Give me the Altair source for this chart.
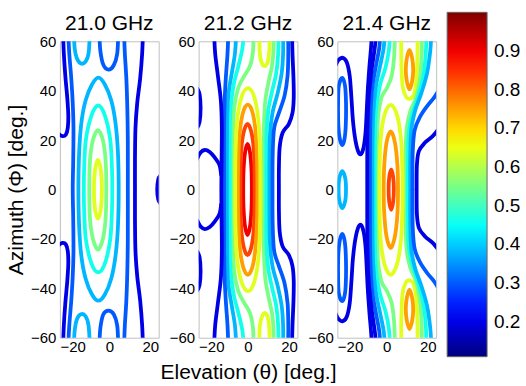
import altair as alt
import pandas as pd

PANELS = ["21.0 GHz", "21.2 GHz", "21.4 GHz"]
X_TICKS = [-20, 0, 20]
Y_TICKS = [-60, -40, -20, 0, 20, 40, 60]
CBAR_TICKS = [0.2, 0.3, 0.4, 0.5, 0.6, 0.7, 0.8, 0.9]
JET_DOMAIN = [0.11, 0.22125, 0.44375, 0.66625, 0.88875, 1.0]
JET_COLORS = ["#00007f", "#0000ff", "#00ffff", "#ffff00", "#ff0000", "#7f0000"]

# ---------------- 21.0 GHz contours (elevation, azimuth) ----------------
P1_C064 = [(-4.6, 12), (-3.6, 9), (-3.1, 4), (-3.0, 0), (-3.1, -4), (-3.6, -9), (-4.6, -11.8),
           (-5.6, -9), (-6.1, -4), (-6.2, 0), (-6.1, 4), (-5.6, 9)]
P1_C055 = [(-4.6, 24), (-2.6, 20), (-1.5, 12), (-1.2, 0), (-1.5, -12), (-2.6, -20), (-4.6, -24.3),
           (-6.6, -20), (-7.8, -12), (-8.1, 0), (-7.8, 12), (-6.6, 20)]
P1_C046 = [(-4.5, 34), (-1.8, 30), (0.4, 20), (1.1, 8), (1.2, 0), (1.1, -8), (0.4, -20), (-1.8, -30),
           (-4.5, -33.5), (-7.2, -30), (-9.5, -20), (-10.2, -8), (-10.3, 0), (-10.2, 8), (-9.5, 20), (-7.2, 30)]
P1_C038 = [(-4.4, 45.3), (-1.8, 42.5), (0.8, 36), (2.5, 27), (3.5, 15), (3.8, 0), (3.5, -15), (2.5, -27),
           (0.8, -36), (-1.8, -42.5), (-4.4, -45), (-7, -42.5), (-9.6, -36), (-11.3, -27), (-12.2, -15),
           (-12.5, 0), (-12.2, 15), (-11.3, 27), (-9.6, 36), (-7, 42.5)]
P1_L030 = [(-16.6, 63), (-16.2, 55), (-15.4, 45), (-14.8, 35), (-14.5, 25), (-14.6, 12), (-14.8, 0),
           (-14.6, -12), (-14.5, -25), (-14.8, -35), (-15.4, -45), (-16.2, -55), (-16.6, -63)]
P1_H020_TOP = [(-18.7, 63), (-18.4, 55), (-17.8, 46), (-17.0, 37), (-16.6, 30), (-16.8, 25), (-17.6, 22.2),
               (-19, 21.6), (-20.6, 22.6)]
P1_H020_BOT = [(-18.7, -63), (-18.4, -55), (-17.8, -46), (-17.0, -37), (-16.6, -30), (-16.8, -25),
               (-17.6, -22.2), (-19, -21.6), (-20.6, -22.6)]
P1_T038_TOP = [(-14.3, 63), (-14.0, 57), (-13.1, 53), (-11.5, 51), (-9.6, 51.8), (-8.4, 55), (-7.9, 63)]
P1_T038_BOT = [(-14.3, -63), (-14.0, -57), (-13.1, -52.5), (-11.5, -50.5), (-9.6, -51.3), (-8.4, -55), (-7.9, -63)]
P1_U030_TOP = [(-4.0, 63), (-3.6, 56), (-2.4, 50.5), (-0.3, 48.5), (1.8, 50.3), (3.2, 55), (3.6, 63)]
P1_U030_BOT = [(-4.0, -63), (-3.6, -56), (-2.4, -50.5), (-0.3, -49), (1.8, -50.5), (3.2, -55), (3.6, -63)]
P1_R030 = [(6.0, 63), (6.3, 55), (6.9, 45), (7.3, 33), (7.5, 20), (7.5, 0), (7.5, -20), (7.3, -33),
           (6.9, -45), (6.3, -55), (6.0, -63)]
P1_R020 = [(13.6, 63), (13.3, 55), (12.5, 45), (11.3, 35), (10.6, 25), (10.4, 12), (10.4, 0), (10.4, -12),
           (10.6, -25), (11.3, -35), (12.5, -45), (13.3, -55), (13.6, -63)]
P1_E020 = [(20.6, 5.5), (19.8, 4), (19.4, 0), (19.8, -4), (20.6, -5.5)]

# ---------------- 21.2 GHz contours ----------------
P2_C090 = [(-0.2, 18.5), (0.8, 15), (1.4, 8), (1.55, 0), (1.4, -8), (0.8, -15), (-0.2, -18.5),
           (-1.2, -15), (-1.8, -8), (-1.95, 0), (-1.8, 8), (-1.2, 15)]
P2_C083 = [(-0.2, 26.6), (1.4, 23), (2.4, 15), (2.7, 0), (2.4, -15), (1.4, -23), (-0.2, -26.6),
           (-1.8, -23), (-2.8, -15), (-3.1, 0), (-2.8, 15), (-1.8, 23)]
P2_C075 = [(-0.1, 34.4), (2, 30.5), (3.3, 20), (3.8, 0), (3.3, -20), (2, -30.5), (-0.1, -34.5),
           (-2.2, -30.5), (-3.6, -20), (-4.1, 0), (-3.6, 20), (-2.2, 30.5)]
P2_C064 = [(0, 41), (2.5, 37.5), (4.2, 28), (4.9, 14), (5.0, 0), (4.9, -14), (4.2, -28), (2.5, -37.5),
           (0, -41.2), (-2.6, -37.5), (-4.4, -28), (-5.1, -14), (-5.2, 0), (-5.1, 14), (-4.4, 28), (-2.6, 37.5)]
P2_U064_TOP = [(4.6, 63), (4.7, 56), (5.3, 52), (6.6, 50), (7.9, 51.5), (8.6, 56), (8.8, 63)]
P2_U064_BOT = [(4.6, -63), (4.7, -56), (5.3, -52.5), (6.6, -50), (7.9, -51.5), (8.6, -56), (8.8, -63)]
P2_L055 = [(2.2, 63), (2.0, 56), (0.8, 50), (-1.5, 46), (-4, 41), (-5.6, 33), (-6.2, 20), (-6.3, 0),
           (-6.2, -20), (-5.6, -33), (-4, -41), (-1.5, -46), (0.8, -50), (2.0, -56), (2.2, -63)]
P2_R055 = [(10.4, 63), (10.3, 56), (9.7, 50), (8.4, 44), (7, 36), (6.4, 25), (6.2, 12), (6.2, 0),
           (6.2, -12), (6.4, -25), (7, -36), (8.4, -44), (9.7, -50), (10.3, -56), (10.4, -63)]
P2_L046 = [(-1.8, 63), (-2.3, 57), (-3.9, 50), (-5.9, 42), (-7.1, 32), (-7.4, 20), (-7.4, 0),
           (-7.4, -20), (-7.1, -32), (-5.9, -42), (-3.9, -50), (-2.3, -57), (-1.8, -63)]
P2_R046 = [(12.3, 63), (12.2, 55), (11.4, 47), (9.8, 40), (8.2, 32), (7.5, 22), (7.4, 0),
           (7.5, -22), (8.2, -32), (9.8, -40), (11.4, -47), (12.2, -55), (12.3, -63)]
P2_L038 = [(-4.8, 63), (-5.3, 55), (-6.6, 47), (-8.0, 38), (-8.5, 26), (-8.6, 0),
           (-8.5, -26), (-8.0, -38), (-6.6, -47), (-5.3, -55), (-4.8, -63)]
P2_R038 = [(14.2, 63), (14.2, 55), (13.6, 47), (12, 39), (9.9, 31), (8.9, 22), (8.7, 10), (8.7, 0),
           (8.7, -10), (8.9, -22), (9.9, -31), (12, -39), (13.6, -47), (14.2, -55), (14.2, -63)]
P2_L030 = [(-8.0, 63), (-8.3, 55), (-9.0, 45), (-9.5, 35), (-9.7, 22), (-9.7, 0),
           (-9.7, -22), (-9.5, -35), (-9.0, -45), (-8.3, -55), (-8.0, -63)]
P2_R030 = [(16.2, 63), (16.3, 55), (16, 46), (14.8, 38), (12.5, 31), (10.6, 25), (10.0, 15), (9.9, 0),
           (10.0, -15), (10.6, -25), (12.5, -31), (14.8, -38), (16, -46), (16.3, -55), (16.2, -63)]
P2_L020 = [(-13.7, 63), (-13.3, 55), (-12.2, 46), (-11, 36), (-10.6, 25), (-10.7, 12), (-10.8, 0),
           (-10.7, -12), (-10.6, -25), (-11, -36), (-12.2, -46), (-13.3, -55), (-13.7, -63)]
P2_R020 = [(17.8, 63), (18, 55), (18.4, 45), (18.5, 37), (18, 31), (16.5, 26.5), (14, 23), (12.8, 17),
           (12.5, 8), (12.5, 0), (12.5, -8), (12.8, -17), (14, -23), (16.5, -26.5), (18, -31), (18.5, -37),
           (18.4, -45), (18, -55), (17.8, -63)]
P2_H020_TOP = [(-20.6, 12.5), (-19.2, 15), (-17.5, 16), (-15.5, 15.2), (-13.5, 13), (-11.6, 10), (-10.9, 6)]
P2_H020_BOT = [(-20.6, -12.5), (-19.2, -15), (-17.5, -16), (-15.5, -15.2), (-13.5, -13), (-11.6, -10), (-10.9, -6)]
P2_E020_TOP = [(-20.6, 41), (-19.6, 38.5), (-19.2, 33), (-19.6, 27.5), (-20.6, 25)]
P2_E020_BOT = [(-20.6, -25), (-19.6, -27.5), (-19.2, -33), (-19.6, -38.5), (-20.6, -41)]

# ---------------- 21.4 GHz contours ----------------
P3_C083 = [(1.8, 8), (2.6, 5), (2.85, 0), (2.6, -5), (1.8, -8.2), (1.0, -5), (0.75, 0), (1.0, 5)]
P3_C075 = [(1.6, 23.5), (3.3, 19), (4.3, 10), (4.55, 0), (4.3, -10), (3.3, -19), (1.6, -23.7),
           (-0.1, -19), (-1.0, -10), (-1.25, 0), (-1.0, 10), (-0.1, 19)]
P3_C064 = [(1.6, 34.3), (4.2, 30), (5.8, 20), (6.3, 8), (6.35, 0), (6.3, -8), (5.8, -20), (4.2, -30),
           (1.6, -34.5), (-1.0, -30), (-2.5, -20), (-2.9, -8), (-3.0, 0), (-2.9, 8), (-2.5, 20), (-1.0, 30)]
P3_S075_TOP = [(9.2, 56.5), (10.3, 53), (10.7, 48.5), (10.3, 44), (9.2, 40.5), (8.1, 44), (7.7, 48.5), (8.1, 53)]
P3_S075_BOT = [(9.2, -40.5), (10.3, -44), (10.7, -48.5), (10.3, -53), (9.2, -56.5), (8.1, -53), (7.7, -48.5), (8.1, -44)]
P3_U064_TOP = [(5.9, 63), (5.9, 52), (6.4, 42), (7.8, 37.5), (9.4, 36.8), (11, 38.5), (12, 45), (12.4, 54), (12.5, 63)]
P3_U064_BOT = [(5.9, -63), (5.9, -52), (6.4, -42), (7.8, -37.5), (9.4, -36.8), (11, -38.5), (12, -45), (12.4, -54), (12.5, -63)]
P3_L055 = [(3.3, 63), (3.0, 54), (2.0, 46), (0, 41), (-2.2, 37), (-3.6, 28), (-3.9, 14), (-4.0, 0),
           (-3.9, -14), (-3.6, -28), (-2.2, -37), (0, -41), (2.0, -46), (3.0, -54), (3.3, -63)]
P3_R055 = [(14.2, 63), (14.1, 54), (13.4, 45), (11.8, 37), (9.6, 32), (8.1, 25), (7.6, 14), (7.5, 0),
           (7.6, -14), (8.1, -25), (9.6, -32), (11.8, -37), (13.4, -45), (14.1, -54), (14.2, -63)]
P3_L046 = [(1.3, 63), (0.8, 56), (-0.6, 49), (-2.8, 42), (-4.4, 32), (-4.8, 18), (-4.9, 0),
           (-4.8, -18), (-4.4, -32), (-2.8, -42), (-0.6, -49), (0.8, -56), (1.3, -63)]
P3_R046 = [(16, 63), (15.8, 55), (14.8, 46), (12.8, 38), (10.5, 31), (8.9, 23), (8.6, 12), (8.5, 0),
           (8.6, -12), (8.9, -23), (10.5, -31), (12.8, -38), (14.8, -46), (15.8, -55), (16, -63)]
P3_L038 = [(-0.8, 63), (-1.3, 57), (-2.7, 50), (-4.5, 41), (-5.5, 30), (-5.8, 15), (-5.8, 0),
           (-5.8, -15), (-5.5, -30), (-4.5, -41), (-2.7, -50), (-1.3, -57), (-0.8, -63)]
P3_R038 = [(18, 63), (17.6, 56), (16.3, 47), (14, 39), (11.5, 32), (9.9, 24), (9.5, 12), (9.5, 0),
           (9.5, -12), (9.9, -24), (11.5, -32), (14, -39), (16.3, -47), (17.6, -56), (18, -63)]
P3_L030 = [(-2.6, 63), (-3.1, 57), (-4.4, 50), (-5.9, 41), (-6.6, 30), (-6.8, 15), (-6.8, 0),
           (-6.8, -15), (-6.6, -30), (-5.9, -41), (-4.4, -50), (-3.1, -57), (-2.6, -63)]
P3_R030_TOP = [(20.6, 39.5), (19, 37), (16.5, 34), (13.5, 29.5), (11.3, 24), (10.5, 15), (10.4, 0)]
P3_R030_BOT = [(10.4, 0), (10.5, -15), (11.3, -24), (13.5, -29.5), (16.5, -34), (19, -37), (20.6, -39.5)]
P3_R020 = [(20.6, 24), (18.5, 21.5), (15.5, 19), (13, 15.5), (12.2, 10), (12.1, 0), (12.2, -10),
           (13, -15.5), (15.5, -19), (18.5, -21.5), (20.6, -24)]
P3_L020 = [(-4.3, 63), (-4.9, 57), (-6.2, 48), (-7.3, 37), (-7.8, 25), (-7.9, 12), (-7.9, 0),
           (-7.9, -12), (-7.8, -25), (-7.3, -37), (-6.2, -48), (-4.9, -57), (-4.3, -63)]
P3_V020_TOP = [(-20.6, 50.5), (-19.5, 52.5), (-17.8, 53.3), (-16.2, 51.5), (-15, 46), (-14.3, 37),
               (-13.7, 28), (-12.7, 20), (-11.4, 15), (-10.3, 14.5), (-9.3, 17.5), (-8.6, 23),
               (-8.2, 30), (-7.7, 40), (-7, 50), (-6.4, 57), (-6, 63)]
P3_V020_BOT = [(-20.6, -50.5), (-19.5, -52.5), (-17.8, -53.3), (-16.2, -51.5), (-15, -46), (-14.3, -37),
               (-13.7, -28), (-12.7, -20), (-11.4, -15), (-10.3, -14.5), (-9.3, -17.5), (-8.6, -23),
               (-8.2, -30), (-7.7, -40), (-7, -50), (-6.4, -57), (-6, -63)]
P3_B030_TOP = [(-18, 45.2), (-16.9, 42), (-16.5, 35), (-16.6, 26), (-17.1, 20.5), (-18, 18),
               (-19, 20.5), (-19.6, 26), (-19.7, 35), (-19.4, 42)]
P3_B030_BOT = [(-18, -18), (-17.1, -20.5), (-16.6, -26), (-16.5, -35), (-16.9, -42), (-18, -45.2),
               (-19.4, -42), (-19.7, -35), (-19.6, -26), (-19, -20.5)]
P3_E038 = [(-18, 7.4), (-16.8, 4.5), (-16.5, 0), (-16.8, -4.5), (-18, -7.5), (-19.2, -4.5), (-19.5, 0), (-19.2, 4.5)]

# (panel, level, closed, points)
CONTOURS = [
    (0, 0.64, True, P1_C064), (0, 0.55, True, P1_C055), (0, 0.46, True, P1_C046), (0, 0.38, True, P1_C038),
    (0, 0.30, False, P1_L030), (0, 0.20, False, P1_H020_TOP), (0, 0.20, False, P1_H020_BOT),
    (0, 0.38, False, P1_T038_TOP), (0, 0.38, False, P1_T038_BOT), (0, 0.30, False, P1_U030_TOP),
    (0, 0.30, False, P1_U030_BOT), (0, 0.30, False, P1_R030), (0, 0.20, False, P1_R020), (0, 0.20, False, P1_E020),
    (1, 0.90, True, P2_C090), (1, 0.83, True, P2_C083), (1, 0.75, True, P2_C075), (1, 0.64, True, P2_C064),
    (1, 0.64, False, P2_U064_TOP), (1, 0.64, False, P2_U064_BOT), (1, 0.55, False, P2_L055), (1, 0.55, False, P2_R055),
    (1, 0.46, False, P2_L046), (1, 0.46, False, P2_R046), (1, 0.38, False, P2_L038), (1, 0.38, False, P2_R038),
    (1, 0.30, False, P2_L030), (1, 0.30, False, P2_R030), (1, 0.20, False, P2_L020), (1, 0.20, False, P2_R020),
    (1, 0.20, False, P2_H020_TOP), (1, 0.20, False, P2_H020_BOT), (1, 0.20, False, P2_E020_TOP), (1, 0.20, False, P2_E020_BOT),
    (2, 0.83, True, P3_C083), (2, 0.75, True, P3_C075), (2, 0.64, True, P3_C064), (2, 0.75, True, P3_S075_TOP),
    (2, 0.75, True, P3_S075_BOT), (2, 0.64, False, P3_U064_TOP), (2, 0.64, False, P3_U064_BOT),
    (2, 0.55, False, P3_L055), (2, 0.55, False, P3_R055), (2, 0.46, False, P3_L046), (2, 0.46, False, P3_R046),
    (2, 0.38, False, P3_L038), (2, 0.38, False, P3_R038), (2, 0.30, False, P3_L030), (2, 0.30, False, P3_R030_TOP),
    (2, 0.30, False, P3_R030_BOT), (2, 0.20, False, P3_R020), (2, 0.20, False, P3_L020), (2, 0.20, False, P3_V020_TOP),
    (2, 0.20, False, P3_V020_BOT), (2, 0.30, True, P3_B030_TOP), (2, 0.30, True, P3_B030_BOT), (2, 0.38, True, P3_E038),
]

rows = []
for cid, (p, lev, closed, pts) in enumerate(CONTOURS):
    for k, (e, a) in enumerate(pts):
        rows.append({"panel": PANELS[p], "cid": cid, "level": lev, "closed": closed,
                     "ord": k, "elev": e, "az": a})
df = pd.DataFrame(rows)

FONT = "Liberation Sans"
color_scale = alt.Scale(domain=JET_DOMAIN, range=JET_COLORS, interpolate="rgb")
legend = alt.Legend(orient="none", legendX=388, legendY=-29, direction="vertical",
                    gradientLength=345, gradientThickness=40, values=CBAR_TICKS, format=".1f",
                    labelFontSize=19, labelFont=FONT, labelColor="black", title=None,
                    gradientStrokeColor="#666666", gradientStrokeWidth=1, labelOffset=7,
                    labelOverlap=False)


def panel(i):
    name = PANELS[i]
    x_axis = alt.Axis(values=X_TICKS, title="Elevation (θ) [deg.]" if i == 1 else None,
                      titlePadding=7, labelFont=FONT, labelFontSize=15, labelColor="black",
                      ticks=False, domain=False, grid=False, labelPadding=2,
                      titleFont=FONT, titleFontSize=21, titleFontWeight="normal", titleColor="black")
    y_axis = alt.Axis(values=Y_TICKS, title="Azimuth (Φ) [deg.]" if i == 0 else None,
                      titlePadding=4, labelFont=FONT, labelFontSize=15, labelColor="black",
                      ticks=False, domain=False, grid=False, labelPadding=4,
                      titleFont=FONT, titleFontSize=21, titleFontWeight="normal", titleColor="black")
    enc = dict(
        x=alt.X("elev:Q", scale=alt.Scale(domain=[-20, 20], nice=False, zero=False), axis=x_axis),
        y=alt.Y("az:Q", scale=alt.Scale(domain=[-60, 60], nice=False, zero=False), axis=y_axis),
        color=alt.Color("level:Q", scale=color_scale, legend=legend),
        detail="cid:N",
        order="ord:Q",
    )
    base = alt.Chart(df).transform_filter(alt.datum.panel == name)
    opened = base.transform_filter("!datum.closed").mark_line(
        strokeWidth=3.8, clip=True, interpolate="cardinal", strokeCap="round", strokeJoin="round"
    ).encode(**enc)
    closed = base.transform_filter("datum.closed").mark_line(
        strokeWidth=3.8, clip=True, interpolate="cardinal-closed", strokeCap="round", strokeJoin="round"
    ).encode(**enc)
    return alt.layer(opened, closed).properties(
        width=99, height=297,
        title=alt.TitleParams(name, fontSize=21, font=FONT, fontWeight="normal", color="black",
                              anchor="middle", offset=0),
    )


chart = alt.hconcat(panel(0), panel(1), panel(2), spacing=40, bounds="flush").properties(
    padding={"left": 5, "top": 12, "right": 5, "bottom": 5}, background="white"
).configure_view(stroke="#c0c0c0", strokeWidth=1)

chart.save("out.html", embed_options={"renderer": "svg", "actions": False})
